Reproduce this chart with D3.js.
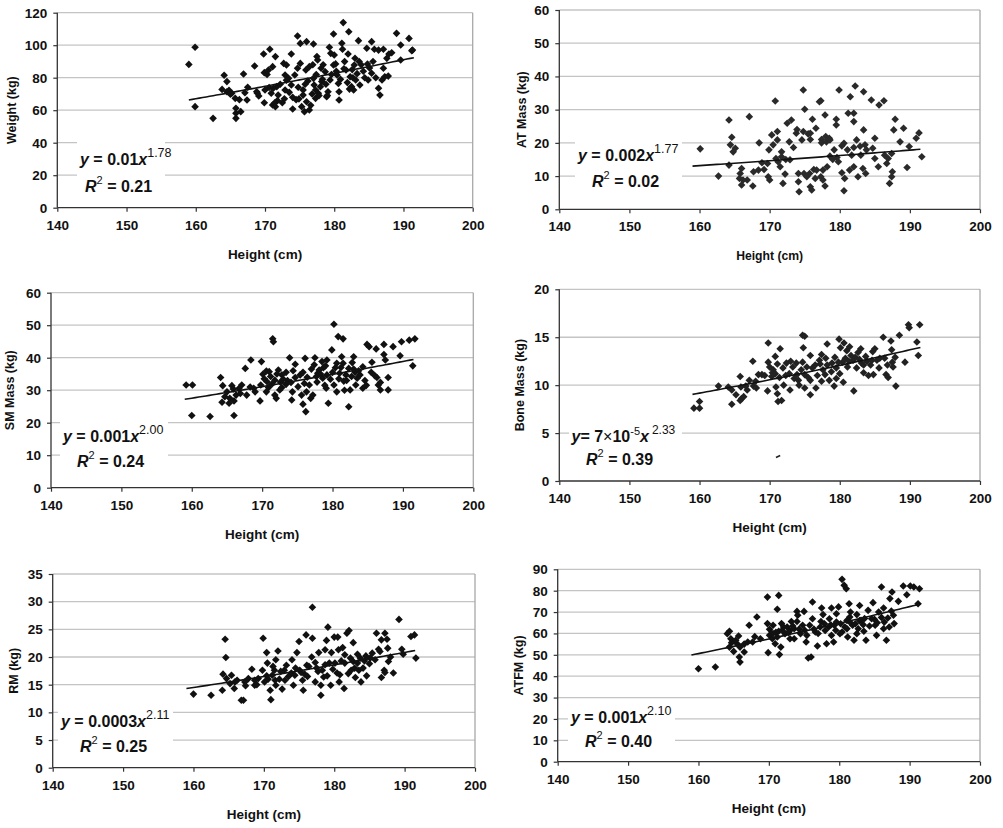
<!DOCTYPE html>
<html><head><meta charset="utf-8">
<script src="https://cdn.jsdelivr.net/npm/d3@7"></script>
<style>body{margin:0;background:#fff}svg{display:block}</style>
</head><body><svg id="c" width="1003" height="828"></svg>
<script>
// ---------- DATA ----------
const heightTicks = [140,150,160,170,180,190,200];
const weightTicks = [0,20,40,60,80,100,120];
const atTicks = [0,10,20,30,40,50,60];
const smTicks = [0,10,20,30,40,50,60];
const boneTicks = [0,5,10,15,20];
const rmTicks = [0,5,10,15,20,25,30,35];
const atfmTicks = [0,10,20,30,40,50,60,70,80,90];

// [height cm, value kg]
const weight = [[159.0,88.2],[159.9,98.7],[159.9,62.2],[162.5,55.0],[164.1,81.5],[164.5,77.6],[163.8,72.8],[164.5,71.4],[165.2,70.4],[165.7,67.3],[165.8,61.2],[165.8,58.1],[165.8,55.0],[166.5,59.1],[167.4,66.3],[166.9,82.3],[167.5,74.1],[168.5,87.2],[168.8,71.4],[169.1,68.7],[169.8,94.6],[169.9,83.1],[170.0,72.4],[169.9,64.6],[170.7,97.5],[170.5,84.7],[171.1,86.8],[171.2,73.5],[170.9,70.4],[171.1,63.2],[171.5,93.0],[171.7,74.5],[171.9,69.3],[171.8,65.9],[171.5,62.2],[172.7,88.8],[172.9,81.7],[172.9,72.4],[172.5,64.6],[173.8,94.6],[173.1,87.8],[173.4,79.6],[173.8,75.5],[174.0,67.9],[174.0,60.7],[174.7,105.7],[175.1,101.1],[175.1,88.8],[174.7,85.8],[174.3,81.7],[174.8,74.1],[175.5,69.3],[175.3,62.2],[175.7,59.1],[176.0,102.2],[175.9,84.7],[176.4,86.8],[176.0,65.2],[176.4,60.1],[177.0,100.7],[177.0,79.6],[177.1,75.5],[177.3,72.4],[177.5,93.0],[177.6,90.9],[177.3,67.3],[177.7,70.4],[178.1,85.8],[178.0,74.5],[178.2,77.6],[178.7,83.7],[178.9,68.3],[179.3,98.7],[179.5,95.0],[179.4,78.6],[179.1,71.4],[179.9,106.9],[180.0,94.0],[179.9,87.8],[180.4,81.7],[180.6,76.5],[180.7,71.4],[180.7,66.3],[181.1,101.2],[181.2,97.5],[181.3,113.9],[181.5,89.9],[181.7,84.7],[182.0,94.6],[182.1,108.3],[182.3,80.6],[182.5,74.5],[182.8,72.4],[182.9,87.8],[183.1,78.6],[183.5,102.8],[183.6,89.9],[183.7,75.5],[184.7,98.1],[184.8,88.4],[184.9,78.6],[185.4,102.2],[185.8,97.5],[185.4,82.7],[186.4,97.0],[186.4,73.5],[186.6,69.3],[187.1,97.5],[187.1,85.8],[187.3,80.6],[186.9,78.6],[187.6,91.9],[187.9,94.6],[188.3,95.4],[189.0,107.3],[189.6,100.1],[189.6,90.9],[190.8,104.2],[191.3,97.0],[191.2,96.6],[170.3,82],[170.6,74],[171.4,64.5],[172.2,76],[172.8,67],[173.5,71],[174.5,66.5],[175.5,72.5],[176.2,78],[176.8,70],[177.8,69],[178.4,88],[178.8,76],[179.6,82],[180.2,88.5],[180.9,79],[181.4,85.5],[181.9,77],[182.6,85],[183.3,82.5],[183.9,88],[184.4,80],[185.1,86],[186.0,80],[187.8,81],[182.2,73],[179.0,69],[176.6,63],[174.9,67],[173.1,78.5],[168.9,70.5],[167.1,70.7],[166.3,66.5],[165.0,69.8],[164.8,72.3],[175.8,76],[177.4,82],[180.3,84],[182.7,80],[184.2,84],[178.3,79],[176.9,88],[183,92],[185.6,90]];

const atMass = [[160.1,18.2],[162.7,10],[164.2,26.9],[164.6,21.7],[164.4,19.4],[165.1,18.4],[164.8,17.3],[164.2,13.3],[165.8,10.8],[166.0,12.3],[165.7,9.3],[166.0,7.3],[167.1,27.9],[166.8,8.8],[167.6,7.0],[167.7,11.3],[168.5,20.0],[168.9,14.0],[169.2,12.0],[169.8,9.8],[170.0,8.8],[169.9,17.9],[170.3,22.4],[170.5,19.4],[170.8,32.6],[171.1,20.9],[171.1,23.4],[170.9,15.3],[171.2,14.3],[171.5,12.8],[171.7,15.8],[172.2,10.6],[171.9,7.8],[172.5,25.9],[172.8,20.3],[173.1,26.9],[172.9,14.9],[173.4,18.6],[173.8,22.9],[173.9,24.0],[174.1,10.8],[174.1,8.3],[174.2,5.3],[174.8,35.9],[175.0,30.1],[174.8,23.4],[174.6,20.9],[174.9,10.8],[175.5,22.7],[175.7,10.8],[175.8,6.8],[176.0,5.8],[176.1,27.1],[175.8,21.0],[176.6,24.4],[176.3,12.0],[176.5,9.3],[177.1,32.4],[177.3,32.7],[177.4,21.0],[177.4,20.0],[177.6,11.8],[177.6,8.8],[177.9,28.4],[177.9,7.0],[178.1,20.3],[178.5,21.4],[178.2,12.8],[178.6,16.0],[179.2,17.9],[179.5,25.4],[179.5,27.1],[179.9,35.9],[179.8,14.3],[180.3,11.0],[180.6,19.9],[180.7,9.3],[180.6,5.6],[181.2,28.9],[181.5,33.9],[181.7,16.3],[182.0,28.9],[182.0,26.4],[182.2,37.1],[182.0,18.6],[182.0,12.8],[182.4,20.9],[182.6,9.8],[183.0,16.3],[183.4,23.9],[183.4,35.4],[183.6,19.4],[183.3,12.3],[183.7,10.8],[184.5,32.9],[185.0,21.4],[185.0,15.3],[185.6,31.4],[185.5,12.8],[186.3,32.7],[186.4,16.3],[186.7,13.8],[187.1,7.8],[187.4,9.8],[187.5,11.3],[187.7,23.9],[187.9,27.1],[188.6,20.3],[189.1,24.4],[189.6,12.6],[189.9,18.9],[190.9,21.4],[191.3,23.0],[191.7,15.8],[187.4,16.8],[186.9,15.3],[184.7,18.4],[183.8,17.9],[181.1,17.9],[180.3,19.1],[179.6,15.6],[179.0,15.0],[177.3,9.8],[176.7,11.8],[175.3,9.8],[172.3,15.0],[171.7,17.3],[169.7,13.8],[168.4,11.8],[166.2,8.8],[181.4,11.8],[182.9,19.0],[178.0,21.9],[175.8,22.9],[178.6,20.9]];

const smMass = [[159.2,31.6],[160.1,31.6],[160.0,22.2],[162.6,21.9],[164.1,33.9],[164.4,31.4],[164.3,26.3],[165.0,29.5],[165.3,26.0],[165.7,31.4],[165.9,30.4],[166.0,22.2],[166.0,26.7],[166.3,28.5],[167.1,31.6],[167.6,36.7],[168.4,39.3],[167.8,28.5],[168.8,30.6],[169.7,26.7],[169.9,38.8],[170.1,34.9],[169.8,31.6],[170.6,29.5],[170.7,32.6],[171.0,35.7],[171.5,45.8],[171.6,44.9],[171.2,34.2],[171.8,33.1],[171.8,28.5],[172.0,27.5],[172.3,36.2],[172.8,34.7],[172.8,30.8],[173.4,35.5],[173.4,31.8],[173.9,40.0],[174.1,32.4],[174.3,29.5],[174.2,27.0],[174.7,38.0],[174.7,33.9],[175.1,31.1],[175.4,34.7],[175.6,28.5],[175.8,25.7],[176.1,39.8],[176.2,23.4],[176.0,32.1],[176.7,31.6],[176.9,27.5],[177.2,28.5],[177.5,40.0],[177.4,37.8],[177.7,34.2],[177.9,35.2],[178.1,36.2],[178.5,38.8],[178.6,33.7],[179.1,30.6],[179.2,34.7],[179.4,26.0],[179.9,42.4],[180.2,50.3],[180.4,36.9],[180.2,31.6],[180.6,38.3],[180.8,46.5],[181.0,35.2],[181.5,45.8],[181.3,40.3],[181.5,38.3],[181.6,32.8],[181.9,34.7],[182.3,24.9],[182.5,30.1],[182.7,34.2],[183.0,40.3],[183.2,35.5],[183.3,31.6],[183.5,33.7],[183.9,34.7],[184.3,30.6],[184.9,44.1],[185.2,43.4],[185.6,38.6],[186.3,33.9],[186.5,31.6],[186.8,30.1],[186.2,42.7],[187.3,44.1],[187.3,41.0],[187.5,39.3],[187.9,33.9],[187.9,30.1],[188.6,43.4],[189.6,40.6],[189.8,44.9],[190.9,45.4],[191.7,45.8],[191.4,37.5],[186.8,32.4],[183.0,36.5],[179.7,33.4],[178.7,36.9],[175.8,35.5],[173.0,33.4],[170.6,35.9],[169.0,29.5],[166.9,29.0],[164.7,28.0],[172.5,30.1],[180.6,29.5],[182.3,36.7],[179.2,39.3],[184.3,37.2],[170.3,33.5],[170.9,30.8],[171.4,31.9],[172.1,35],[172.6,32.5],[173.6,33],[174.4,36],[176.4,34],[177,36.5],[177.8,32.5],[178.3,35],[179,37.5],[180,35.5],[180.9,33.5],[181.2,37],[182,33],[182.8,38.5],[183.7,36],[184.6,33],[185.5,35.5],[186,34.5],[184.8,31.5],[168.3,31],[166.7,30.5],[165.4,27.5],[176.3,29.5],[178.9,31.5],[181.7,30]];

const boneMass = [[159.2,7.6],[160.0,8.3],[160.0,7.6],[162.7,9.9],[164.1,9.8],[164.6,9.5],[164.6,8.0],[165.2,9.0],[165.8,10.9],[165.9,9.8],[166.0,8.6],[166.3,8.8],[166.8,9.5],[167.1,10.5],[167.6,12.5],[167.7,9.9],[168.4,11.1],[168.9,11.1],[169.8,14.4],[169.8,12.4],[170.0,11.9],[169.7,9.4],[170.3,10.9],[170.5,11.6],[170.8,11.2],[171.1,12.2],[170.9,9.8],[171.1,9.1],[171.2,8.3],[171.5,13.8],[171.7,8.4],[171.9,11.8],[172.4,12.3],[172.8,11.2],[173.3,11.9],[173.5,10.7],[173.8,12.3],[174.1,10.5],[174.2,10.0],[174.7,15.2],[175.0,15.1],[174.8,13.9],[174.7,12.4],[175.0,11.1],[175.0,9.7],[175.8,9.0],[175.8,10.5],[175.8,13.1],[176.1,11.8],[176.5,12.1],[176.6,9.7],[177.1,12.6],[177.4,13.2],[177.6,11.6],[177.9,11.1],[178.2,14.3],[178.2,12.1],[178.5,10.5],[178.8,11.4],[179.2,9.9],[179.3,12.9],[179.5,11.8],[179.9,14.8],[180.1,13.9],[180.4,12.4],[180.5,10.3],[180.6,14.4],[181.0,13.6],[181.1,11.9],[181.4,14.0],[181.6,13.1],[181.9,12.6],[182.0,9.4],[182.4,11.8],[182.6,13.4],[183.0,13.8],[183.1,12.3],[183.4,11.3],[183.7,13.0],[184.1,11.0],[184.4,12.1],[185.0,13.8],[184.8,11.1],[185.3,12.6],[185.6,11.8],[186.2,15.0],[186.4,12.8],[186.6,11.1],[186.9,10.8],[187.3,14.6],[187.4,13.7],[187.5,12.4],[187.6,11.9],[188.0,9.9],[188.5,15.2],[189.3,12.4],[189.8,16.3],[189.9,16.0],[191.0,14.5],[191.2,13.1],[191.4,16.3],[165.8,8.4],[168.1,9.7],[172.0,10.0],[175.3,11.9],[177.4,10.4],[179.5,10.7],[183.4,12.1],[180.0,11.2],[172.9,9.5],[170.8,13.0],[184.7,13.5],[170.4,11.3],[171.4,10.8],[172.3,11],[173,12.5],[173.9,11.1],[174.5,11.6],[175.5,10.8],[176.8,11],[177.2,12.2],[178,12.8],[178.9,12.3],[179.8,12.4],[180.8,12.8],[181.3,12.5],[182.2,12.9],[182.8,12.7],[183.9,12.5],[184.6,12.6],[185.7,12.8],[186.8,12.1],[187.9,12.9],[169.3,11],[168,10.4],[166.6,9.9]];
const boneArtifact = [[170.9,2.45],[171.5,2.65]];

const rm = [[160.0,13.3],[162.5,13.1],[164.1,14.0],[164.5,23.2],[164.6,19.9],[164.2,16.9],[164.7,16.1],[165.4,16.7],[165.9,15.5],[165.8,14.3],[166.8,12.2],[167.1,12.2],[167.4,14.8],[167.8,16.1],[168.3,17.8],[168.7,14.9],[169.2,16.1],[169.9,23.4],[169.8,17.6],[170.1,15.5],[170.4,20.8],[170.5,18.9],[170.9,14.0],[171.0,12.3],[171.2,16.7],[171.5,17.6],[171.7,19.5],[171.7,14.9],[172.0,21.1],[172.2,16.0],[172.6,14.2],[172.9,17.6],[173.2,18.5],[173.9,17.1],[174.0,19.5],[174.2,14.9],[174.7,20.8],[175.0,22.8],[175.1,17.6],[175.5,15.8],[175.6,14.0],[176.0,24.0],[176.1,18.5],[176.4,18.3],[176.9,29.0],[176.9,23.4],[177.3,19.0],[177.7,17.4],[177.8,20.8],[178.1,13.1],[178.1,14.9],[178.5,16.4],[178.9,23.0],[179.1,25.4],[179.3,18.9],[179.5,14.9],[179.6,20.8],[180.0,23.6],[180.4,17.1],[180.5,23.6],[180.7,15.5],[181.0,19.3],[181.2,21.7],[181.4,14.3],[181.8,24.3],[182.1,24.8],[182.3,19.8],[182.4,17.6],[182.7,22.6],[183.0,16.3],[183.3,20.5],[183.5,17.6],[183.8,15.5],[184.3,19.3],[184.6,16.6],[185.1,19.8],[185.4,20.7],[186.0,24.3],[186.3,21.4],[186.7,16.3],[187.1,17.6],[187.2,24.3],[187.5,23.2],[187.6,21.6],[187.7,19.2],[188.4,17.1],[189.2,26.8],[189.6,21.4],[189.8,20.5],[190.9,23.7],[191.4,24.0],[191.6,19.8],[187.2,17.2],[186.7,23.1],[182.7,19.2],[181.5,18.9],[180.1,18.9],[178.7,18.6],[177.3,15.5],[175.8,16.9],[174.4,16.7],[173.0,15.8],[170.4,16.6],[168.7,15.8],[167.3,15.5],[183.3,18.9],[184.1,18.0],[180.6,21.3],[178.7,21.3],[171.6,15.8],[170.6,16],[171.3,18.3],[172.4,17.4],[173.5,16.5],[174.5,18],[175.3,17.2],[176.2,16.5],[176.8,20],[177.5,18],[178.3,17.6],[179,16.6],[179.8,17.8],[180.8,16.8],[181.5,20.4],[182,17],[182.9,18],[183.7,19.8],[184.5,20.2],[185,18.8],[185.8,19.5],[169,15],[166.2,15.8],[165.2,15.2],[186.5,21],[188,20]];

const atfm = [[160.0,43.5],[162.4,44.3],[164.1,59.9],[164.4,61.0],[164.6,57.5],[164.7,55.7],[164.4,53.6],[165.0,51.6],[165.7,58.8],[165.5,55.2],[165.9,53.6],[165.8,49.0],[165.9,46.6],[166.5,51.3],[167.0,56.0],[167.7,56.0],[167.2,63.8],[168.3,67.7],[168.8,57.5],[169.8,77.0],[169.8,64.6],[170.1,61.9],[169.9,51.0],[170.4,59.9],[170.6,63.8],[170.9,55.2],[171.2,71.3],[171.4,77.8],[171.2,58.3],[171.5,50.1],[171.7,53.6],[171.8,64.6],[172.3,59.9],[172.6,63.0],[173.0,61.4],[173.2,65.6],[173.6,57.5],[174.0,70.3],[174.1,68.5],[174.5,59.9],[174.8,63.8],[175.0,70.3],[175.3,56.0],[175.6,48.5],[176.0,49.0],[176.2,74.7],[176.2,66.9],[176.6,60.7],[176.9,54.1],[177.4,65.6],[177.5,71.9],[177.7,68.8],[178.0,61.4],[178.2,55.2],[178.6,66.9],[178.9,71.9],[179.2,56.0],[179.3,63.8],[179.6,69.2],[179.9,72.4],[180.4,85.3],[180.4,60.7],[180.7,82.5],[181.0,80.9],[181.1,66.1],[181.2,58.3],[181.4,73.9],[181.6,70.0],[181.9,63.8],[182.1,56.8],[182.5,68.8],[182.7,62.2],[182.9,73.1],[183.1,66.1],[183.4,64.1],[183.8,56.8],[184.1,70.8],[184.8,74.4],[185.0,66.6],[185.1,63.8],[185.3,59.1],[185.6,70.0],[186.0,81.7],[186.3,71.9],[186.4,65.3],[186.7,56.8],[186.9,67.2],[187.1,63.0],[187.2,76.3],[187.5,79.4],[187.7,68.5],[187.8,64.6],[188.4,75.0],[189.1,82.2],[189.6,78.1],[190.1,82.2],[190.6,81.7],[191.4,80.9],[191.2,73.9],[186.3,62.2],[183.5,61.0],[181.1,62.2],[179.6,65.3],[178.5,63.0],[177.3,63.0],[175.8,63.8],[175.4,59.1],[173.6,62.2],[172.1,63.0],[170.5,57.5],[171.4,61.0],[165.3,56.8],[182.5,59.9],[180.1,59.9],[178.9,59.1],[173.0,57.5],[170.1,59.1],[174.0,65.6],[184.6,66.9],[181.5,67.7],[171,60.5],[171.9,61.5],[172.8,60.5],[173.4,63.5],[174.3,62],[175.1,61.5],[176.4,62],[177,60],[177.9,64.5],[178.8,64],[179.5,61.5],[180.2,64.5],[180.8,63],[181.6,65],[182.3,64.5],[182.9,66],[183.6,67],[184.3,63.5],[185.4,65],[186,67.5],[187.4,70.5],[170.6,60],[168,58.5],[166.5,55]];

// text per panel
const yTitles = ["Weight (kg)","AT Mass (kg)","SM Mass (kg)","Bone Mass (kg)","RM (kg)","ATFM (kg)"];
const eqCoef = ["0.01","0.002","0.001","7×10","0.0003","0.001"];
const eqExp = ["1.78","1.77","2.00","2.33","2.11","2.10"];
const r2Text = ["0.21","0.02","0.24","0.39","0.25","0.40"];
const trendA = [0.0080,0.00165,0.001076,6.71e-5,3.24e-4,0.001189];
const trendB = [1.78,1.77,2.00,2.33,2.11,2.10];
const trendRange = [159,191.5];

// ---------- LAYOUT ----------
const layout = [
  {l:57.3,r:472.7,t:12.7,b:207.7, ytx:-41, eqx:80, eqy:165, r2x:85, r2y:192, box:[77,139,88,61], xtfs:13.5, col:"#111"},
  {l:559.3,r:980,t:10,b:209.3, ytx:-33, eqx:578, eqy:161, r2x:592, r2y:187, box:[575,139,107,53], xtfs:12.2, col:"#2a2a2a"},
  {l:51,r:473.3,t:292.7,b:487.7, ytx:-37, eqx:63, eqy:442, r2x:77, r2y:467, box:[60,418,108,54], xtfs:13.5, col:"#111"},
  {l:559.3,r:980,t:289.3,b:481, ytx:-35, eqx:571.5, eqy:442, r2x:586, r2y:465, box:[569,424,113,46], xtfs:13.5, col:"#222"},
  {l:52.7,r:475,t:574,b:767.7, ytx:-35, eqx:61, eqy:727, r2x:80, r2y:752, box:[58,704,115,55], xtfs:13.5, col:"#111"},
  {l:557.7,r:980,t:569.3,b:761.7, ytx:-35, eqx:571, eqy:723, r2x:585, r2y:747, box:[568,700,107,53], xtfs:13.5, col:"#111"}
];
const datasets = [weight, atMass, smMass, boneMass, rm, atfm];
const yTickSets = [weightTicks, atTicks, smTicks, boneTicks, rmTicks, atfmTicks];

const FONT = "'Liberation Sans', Arial, Helvetica, sans-serif";
const svg = d3.select("#c").attr("font-family", FONT);

datasets.forEach((data, i) => {
  const L = layout[i];
  const yt = yTickSets[i];
  const x = d3.scaleLinear().domain([heightTicks[0], heightTicks[heightTicks.length-1]]).range([L.l, L.r]);
  const y = d3.scaleLinear().domain([yt[0], yt[yt.length-1]]).range([L.b, L.t]);
  const g = svg.append("g");

  // gridlines
  g.append("g").selectAll("line").data(yt.slice(1)).join("line")
    .attr("x1", L.l).attr("x2", L.r).attr("y1", d => y(d)).attr("y2", d => y(d))
    .attr("stroke", "#c4c4c4").attr("stroke-width", 1.3);
  // right border
  g.append("line").attr("x1", L.r).attr("x2", L.r).attr("y1", L.t).attr("y2", L.b)
    .attr("stroke", "#a8a8a8").attr("stroke-width", 1.3);

  // equation background box
  g.append("rect").attr("x", L.box[0]).attr("y", L.box[1]).attr("width", L.box[2]).attr("height", L.box[3]).attr("fill", "#fff");

  // points
  const r = 3.8;
  g.append("g").selectAll("path").data(data).join("path")
    .attr("transform", d => `translate(${x(d[0])},${y(d[1])})`)
    .attr("d", `M0,${-r}L${r},0L0,${r}L${-r},0Z`)
    .attr("fill", L.col);

  if (i === 3) {
    g.append("path").datum(boneArtifact)
      .attr("d", d3.line().x(d => x(d[0])).y(d => y(d[1])))
      .attr("stroke", "#222").attr("stroke-width", 1.6).attr("fill", "none");
  }

  // trend line
  const tx = d3.range(trendRange[0], trendRange[1] + 0.01, 0.5);
  g.append("path").datum(tx)
    .attr("d", d3.line().x(d => x(d)).y(d => y(trendA[i] * Math.pow(d, trendB[i]))))
    .attr("stroke", "#111").attr("stroke-width", 1.6).attr("fill", "none");

  // axes
  const yAxis = d3.axisLeft(y).tickValues(yt).tickSize(4).tickPadding(6).tickFormat(d3.format("d"));
  const xAxis = d3.axisBottom(x).tickValues(heightTicks).tickSize(4).tickPadding(6).tickFormat(d3.format("d"));
  const ya = g.append("g").attr("transform", `translate(${L.l},0)`).call(yAxis);
  const xa = g.append("g").attr("transform", `translate(0,${L.b})`).call(xAxis);
  [ya, xa].forEach(a => {
    a.select(".domain").attr("stroke", "#333").attr("stroke-width", 1.3);
    a.selectAll(".tick line").attr("stroke", "#333").attr("stroke-width", 1.2);
    a.selectAll(".tick text").attr("font-size", 13.5).attr("font-weight", "bold").attr("fill", "#111").attr("font-family", FONT);
  });
  xa.select(".domain").attr("d", `M${L.l},0H${L.r}`);
  ya.select(".domain").attr("d", `M0,${L.t}V${L.b}`);
  xa.selectAll(".tick text").attr("dy", "0.9em");

  // axis titles
  g.append("text").attr("x", (L.l + L.r) / 2).attr("y", L.b + 51)
    .attr("text-anchor", "middle").attr("font-weight", "bold").attr("font-size", L.xtfs).attr("fill", "#111")
    .text("Height (cm)");
  g.append("text").attr("transform", `translate(${L.l + L.ytx},${(L.t + L.b) / 2}) rotate(-90)`)
    .attr("text-anchor", "middle").attr("font-weight", "bold").attr("font-size", 12.5).attr("fill", "#111")
    .text(yTitles[i]);

  // equation
  const e = g.append("text").attr("x", L.eqx).attr("y", L.eqy)
    .attr("font-size", 16).attr("font-weight", "bold").attr("fill", "#111");
  e.append("tspan").attr("font-style", "italic").text("y");
  if (i === 3) {
    e.append("tspan").text("= 7");
    e.append("tspan").attr("font-weight", "normal").text("×");
    e.append("tspan").text("10");
    e.append("tspan").attr("dy", -7).attr("font-size", 11).attr("font-weight", "normal").text("-5");
    e.append("tspan").attr("dy", 7).attr("font-style", "italic").text("x");
    e.append("tspan").attr("dy", -8).attr("dx", 3).attr("font-size", 12).attr("font-weight", "normal").text(eqExp[i]);
  } else {
    e.append("tspan").text(" = " + eqCoef[i]);
    e.append("tspan").attr("font-style", "italic").text("x");
    e.append("tspan").attr("dy", -8).attr("font-size", 12.5).attr("font-weight", "normal").text(eqExp[i]);
  }
  const r2 = g.append("text").attr("x", L.r2x).attr("y", L.r2y)
    .attr("font-size", 16).attr("font-weight", "bold").attr("fill", "#111");
  r2.append("tspan").attr("font-style", "italic").text("R");
  r2.append("tspan").attr("dy", -8).attr("font-size", 11).attr("font-weight", "normal").text("2");
  r2.append("tspan").attr("dy", 8).text(" = " + r2Text[i]);
});
</script>
</body></html>
